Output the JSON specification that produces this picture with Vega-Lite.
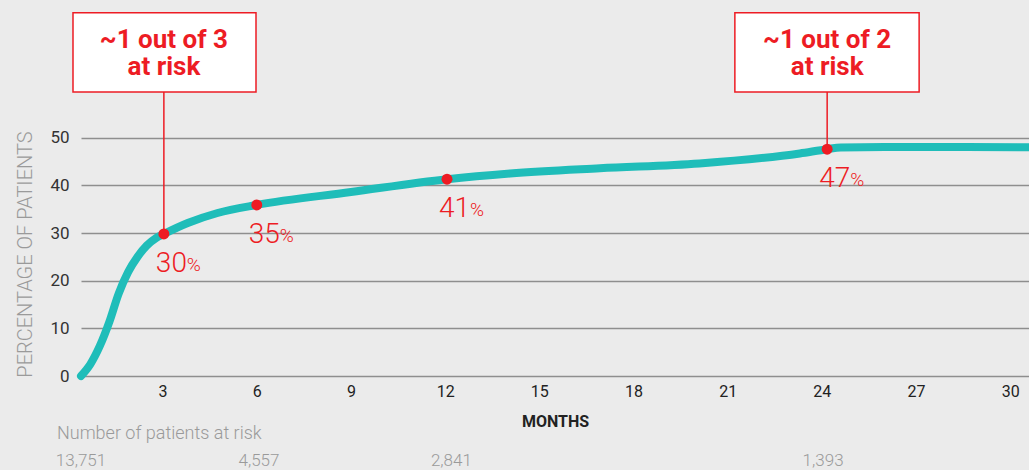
{
  "$schema": "https://vega.github.io/schema/vega-lite/v6.json",
  "width": 948,
  "height": 376,
  "autosize": {"type": "none"},
  "padding": {"left": 81, "top": 0, "right": 0, "bottom": 94},
  "background": "#ebebeb",
  "config": {
    "view": {"stroke": null},
    "font": "Roboto"
  },
  "datasets": {
    "curve": [
      {"m": 0.4, "v": 0},
      {"m": 0.7, "v": 2.5},
      {"m": 1.0, "v": 6.3},
      {"m": 1.3, "v": 11.3},
      {"m": 1.6, "v": 17.3},
      {"m": 1.9, "v": 21.8},
      {"m": 2.2, "v": 25.0},
      {"m": 2.5, "v": 27.4},
      {"m": 2.8, "v": 29.0},
      {"m": 3.04, "v": 29.8},
      {"m": 3.8, "v": 32.1},
      {"m": 4.75, "v": 34.2},
      {"m": 6.0, "v": 35.9},
      {"m": 9.0, "v": 38.6},
      {"m": 12.06, "v": 41.3},
      {"m": 14.07, "v": 42.5},
      {"m": 16.93, "v": 43.6},
      {"m": 20.1, "v": 44.6},
      {"m": 23.3, "v": 46.7},
      {"m": 24.17, "v": 47.6},
      {"m": 24.6, "v": 47.95},
      {"m": 26.0, "v": 48.05},
      {"m": 30.6, "v": 48.0}
    ],
    "marks": [
      {"m": 3.04, "v": 29.8, "num": "30"},
      {"m": 6.0, "v": 35.9, "num": "35"},
      {"m": 12.06, "v": 41.3, "num": "41"},
      {"m": 24.17, "v": 47.6, "num": "47"}
    ],
    "boxes": [
      {"m": 0.145, "m2": 5.975, "v": 59.6, "v2": 76.2, "cm": 3.04, "pv": 29.8, "l1": "~1 out of 3", "l2": "at risk"},
      {"m": 21.23, "m2": 27.1, "v": 59.6, "v2": 76.2, "cm": 24.17, "pv": 47.6, "l1": "~1 out of 2", "l2": "at risk"}
    ],
    "risk": [
      {"m": 0.4, "n": "13,751"},
      {"m": 6.07, "n": "4,557"},
      {"m": 12.2, "n": "2,841"},
      {"m": 24.04, "n": "1,393"}
    ]
  },
  "layer": [
    {
      "data": {"name": "curve"},
      "mark": {"type": "line", "color": "#1fbdb9", "strokeWidth": 8, "strokeCap": "round", "interpolate": "monotone"},
      "encoding": {
        "x": {
          "field": "m", "type": "quantitative",
          "scale": {"domain": [0.4, 30.6], "nice": false, "zero": false},
          "axis": {
            "values": [3, 6, 9, 12, 15, 18, 21, 24, 27, 30],
            "grid": false, "domain": false, "ticks": false, "tickSize": 0,
            "labelPadding": 7, "labelFontSize": 16, "labelColor": "#222222",
            "title": "MONTHS", "titleFontSize": 16, "titleFontWeight": "bold",
            "titleColor": "#222222", "titlePadding": 14
          }
        },
        "y": {
          "field": "v", "type": "quantitative",
          "scale": {"domain": [0, 78.9], "nice": false},
          "axis": {
            "values": [0, 10, 20, 30, 40, 50],
            "grid": true, "gridColor": "#8e8e8e", "gridWidth": 1.5,
            "domain": false, "ticks": false, "tickSize": 0,
            "labelPadding": 12, "labelFontSize": 17, "labelColor": "#333333",
            "title": "PERCENTAGE OF PATIENTS", "titleFontSize": 20, "titleFontWeight": 300,
            "titleColor": "#9a9a9a", "titleX": -56, "titleY": 254, "titleAngle": -90,
            "titleAlign": "center", "titleBaseline": "middle"
          }
        }
      }
    },
    {
      "data": {"name": "boxes"},
      "mark": {"type": "rule", "color": "#ed1c24", "strokeWidth": 1.5},
      "encoding": {
        "x": {"field": "cm", "type": "quantitative"},
        "y": {"field": "pv", "type": "quantitative"},
        "y2": {"field": "v"}
      }
    },
    {
      "data": {"name": "boxes"},
      "mark": {"type": "rect", "fill": "#ffffff", "stroke": "#ed1c24", "strokeWidth": 1.5},
      "encoding": {
        "x": {"field": "m", "type": "quantitative"},
        "x2": {"field": "m2"},
        "y": {"field": "v", "type": "quantitative"},
        "y2": {"field": "v2"}
      }
    },
    {
      "data": {"name": "boxes"},
      "mark": {"type": "text", "color": "#ed1c24", "fontSize": 26, "fontWeight": "bold", "align": "center", "baseline": "alphabetic", "dy": 35},
      "encoding": {
        "x": {"field": "cm", "type": "quantitative"},
        "y": {"field": "v2", "type": "quantitative"},
        "text": {"field": "l1"}
      }
    },
    {
      "data": {"name": "boxes"},
      "mark": {"type": "text", "color": "#ed1c24", "fontSize": 26, "fontWeight": "bold", "align": "center", "baseline": "alphabetic", "dy": -17},
      "encoding": {
        "x": {"field": "cm", "type": "quantitative"},
        "y": {"field": "v", "type": "quantitative"},
        "text": {"field": "l2"}
      }
    },
    {
      "data": {"name": "marks"},
      "mark": {"type": "circle", "color": "#ed1c24", "opacity": 1, "size": 120},
      "encoding": {
        "x": {"field": "m", "type": "quantitative"},
        "y": {"field": "v", "type": "quantitative"}
      }
    },
    {
      "data": {"name": "marks"},
      "mark": {"type": "text", "color": "#ed1c24", "fontSize": 28, "fontWeight": 300, "align": "left", "baseline": "alphabetic", "dx": -8, "dy": 38},
      "encoding": {
        "x": {"field": "m", "type": "quantitative"},
        "y": {"field": "v", "type": "quantitative"},
        "text": {"field": "num"}
      }
    },
    {
      "data": {"name": "marks"},
      "mark": {"type": "text", "color": "#ed1c24", "fontSize": 19, "fontWeight": 300, "align": "left", "baseline": "alphabetic", "dx": 23, "dy": 37, "text": "%"},
      "encoding": {
        "x": {"field": "m", "type": "quantitative"},
        "y": {"field": "v", "type": "quantitative"}
      }
    },
    {
      "data": {"values": [{"m": -0.365, "v": -13.2, "t": "Number of patients at risk"}]},
      "mark": {"type": "text", "color": "#9a9a9a", "fontSize": 18, "fontWeight": 300, "align": "left", "baseline": "alphabetic"},
      "encoding": {
        "x": {"field": "m", "type": "quantitative"},
        "y": {"field": "v", "type": "quantitative"},
        "text": {"field": "t"}
      }
    },
    {
      "data": {"name": "risk"},
      "mark": {"type": "text", "color": "#9a9a9a", "fontSize": 17, "fontWeight": 300, "align": "center", "baseline": "alphabetic", "dy": 0},
      "encoding": {
        "x": {"field": "m", "type": "quantitative"},
        "y": {"datum": -18.8, "type": "quantitative"},
        "text": {"field": "n"}
      }
    }
  ]
}
